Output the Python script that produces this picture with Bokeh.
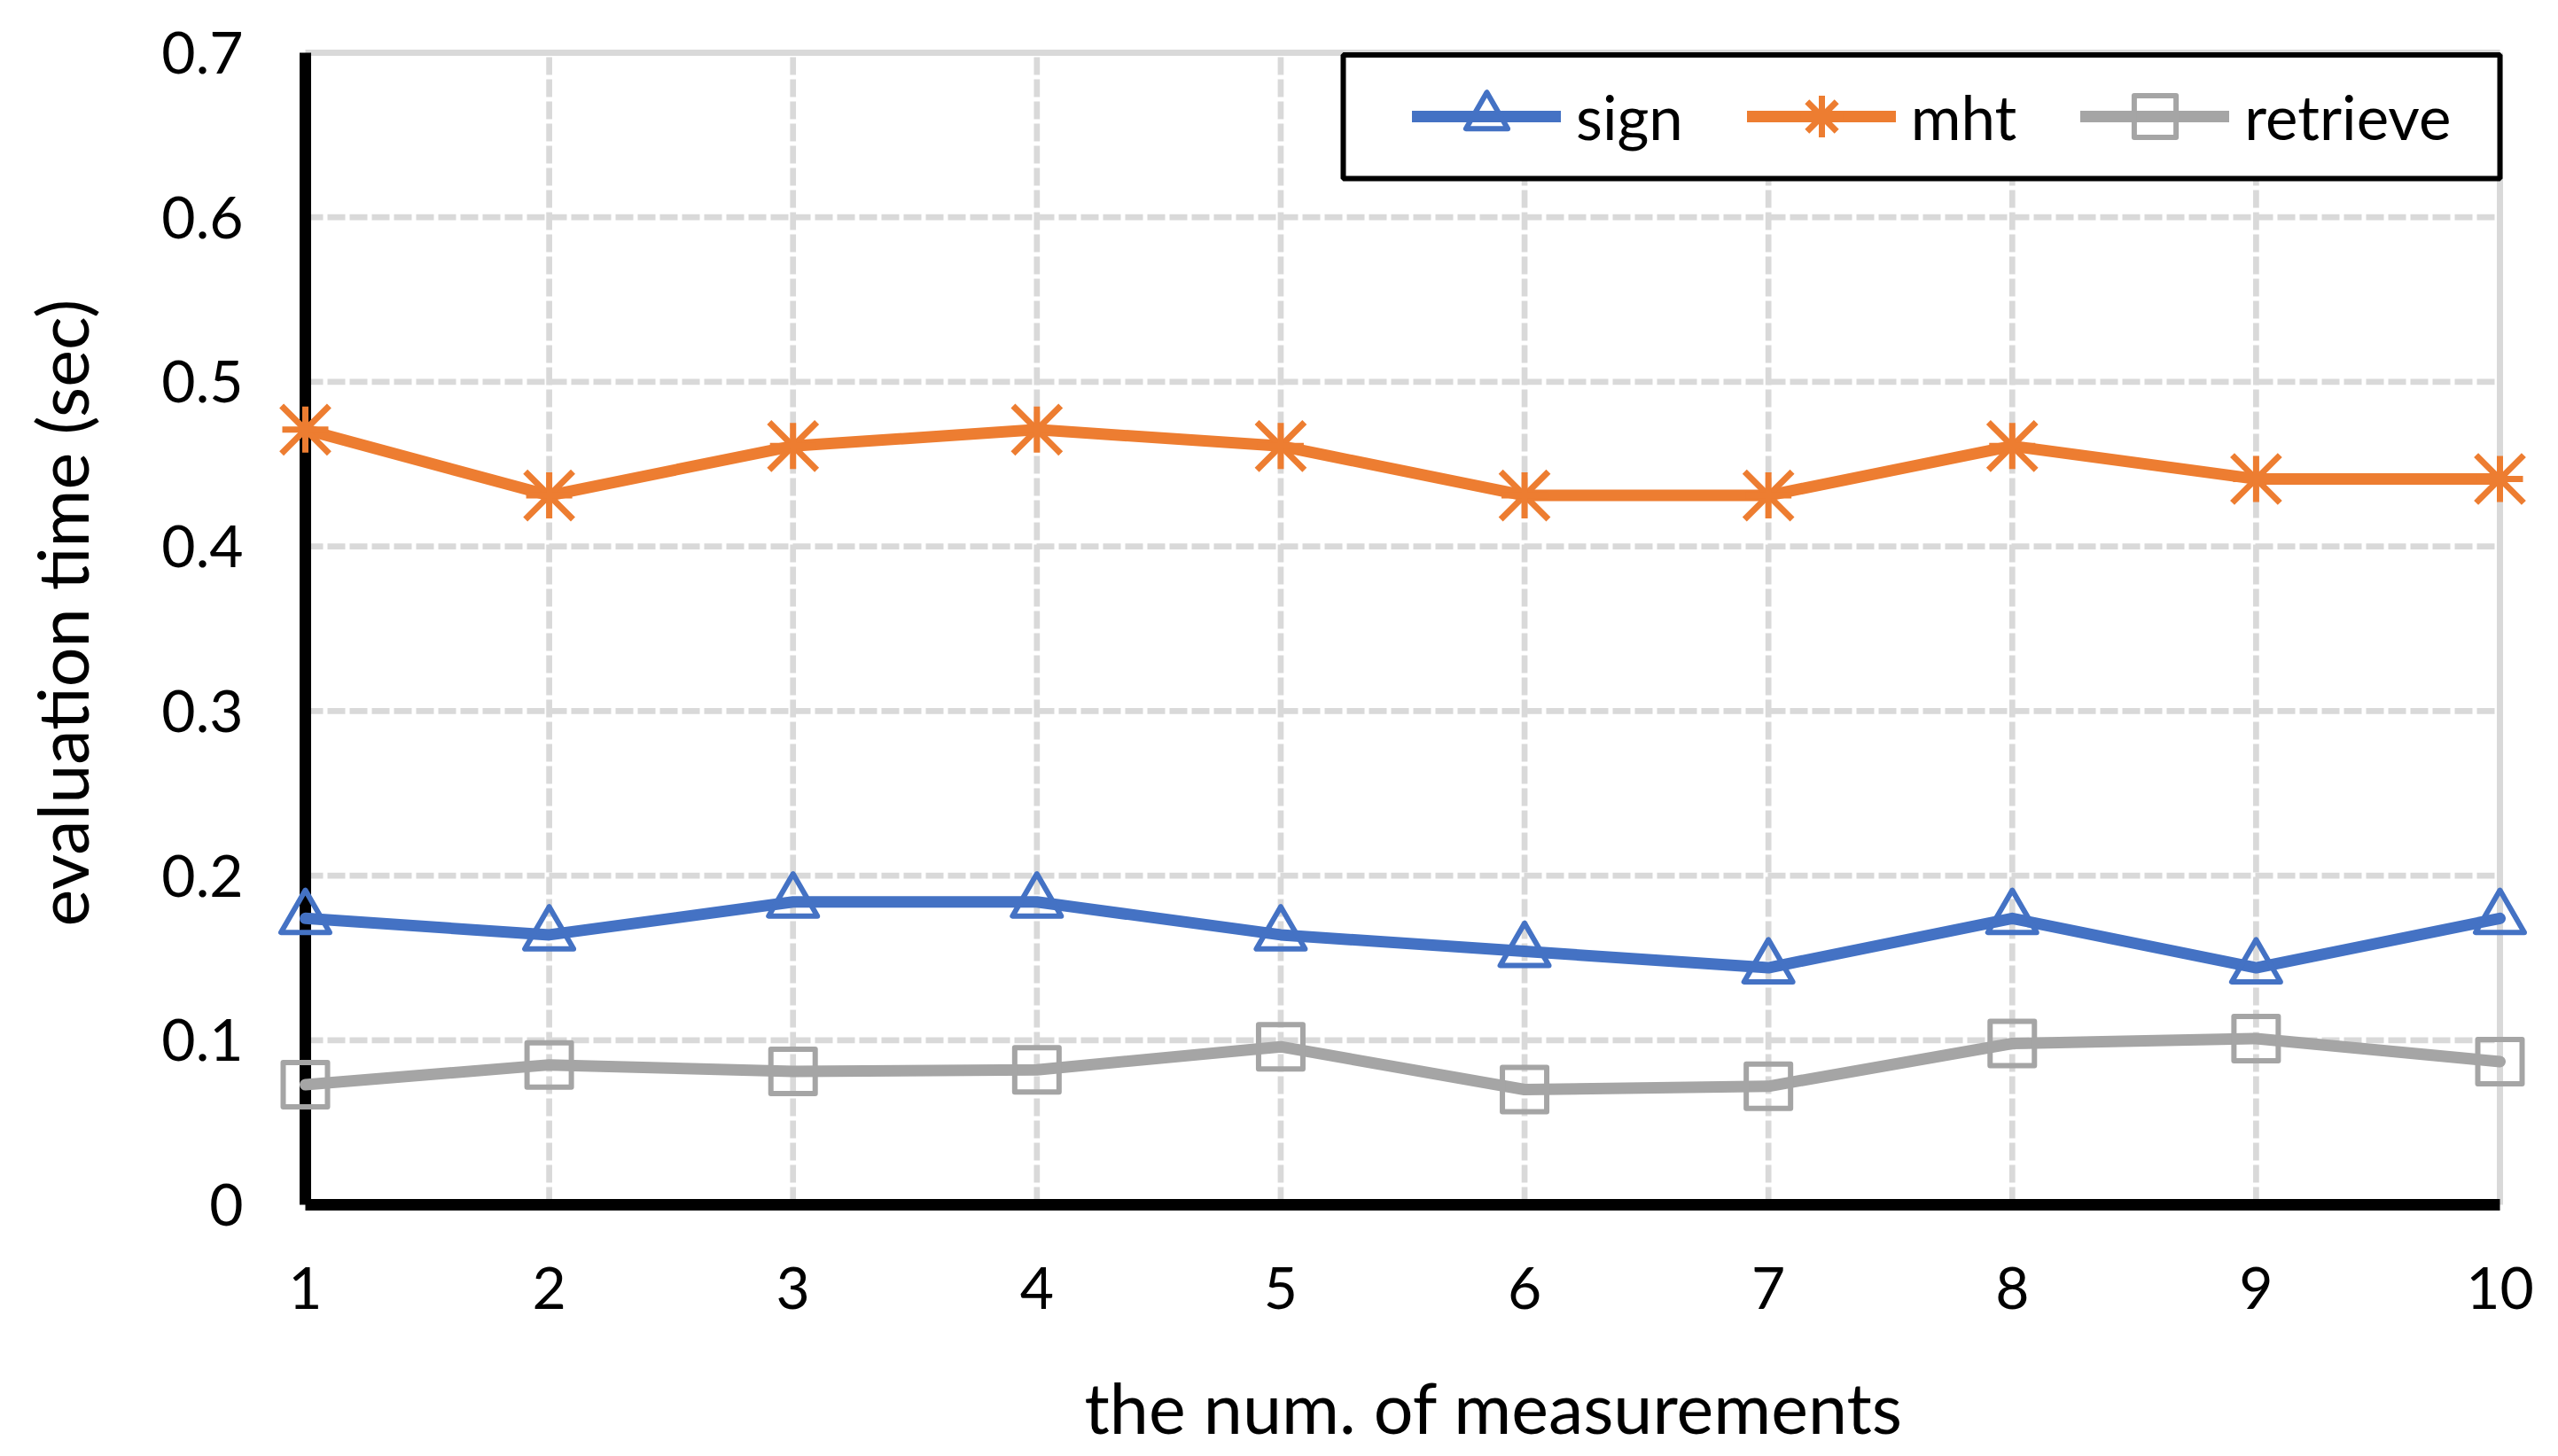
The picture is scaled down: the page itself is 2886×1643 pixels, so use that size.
import math
from bokeh.plotting import figure
from bokeh.models import (Range1d, FixedTicker, CustomJSTickFormatter, Legend, LegendItem,
                          BoxAnnotation, Label)
from bokeh.embed import file_html
from bokeh.resources import INLINE

# ---------------- data ----------------
measurements = [1, 2, 3, 4, 5, 6, 7, 8, 9, 10]
sign = [0.174, 0.164, 0.184, 0.184, 0.164, 0.154, 0.144, 0.174, 0.144, 0.174]
mht = [0.471, 0.431, 0.461, 0.471, 0.461, 0.431, 0.431, 0.461, 0.441, 0.441]
retrieve = [0.073, 0.085, 0.081, 0.082, 0.096, 0.070, 0.072, 0.098, 0.101, 0.087]

series_names = ["sign", "mht", "retrieve"]
x_tick_labels = ["1", "2", "3", "4", "5", "6", "7", "8", "9", "10"]
y_ticks = [0, 0.1, 0.2, 0.3, 0.4, 0.5, 0.6, 0.7]
y_tick_labels = ["0", "0.1", "0.2", "0.3", "0.4", "0.5", "0.6", "0.7"]
x_title = "the num. of measurements"
y_title = "evaluation time (sec)"

# ---------------- layout (pixels on the canvas) ----------------
W, H = 2886, 1643
X_FIRST_PX, X_LAST_PX = 344, 2820      # where first / last category sit
Y_ZERO_PX, Y_TOP_PX = 1359, 59         # where 0 and the top tick sit

x_first, x_last = measurements[0], measurements[-1]
y_bot, y_top = y_ticks[0], y_ticks[-1]
ppx = (X_LAST_PX - X_FIRST_PX) / (x_last - x_first)
ppy = (Y_ZERO_PX - Y_TOP_PX) / (y_top - y_bot)


def px_to_x(px):
    return x_first + (px - X_FIRST_PX) / ppx


def px_to_y(py):
    return y_bot + (Y_ZERO_PX - py) / ppy


FONT = "Lato"
BLUE, ORANGE, GRAY = "#4472C4", "#ED7D31", "#A5A5A5"
GRID = "#D9D9D9"

# the plotting frame covers the whole canvas; axes sit at fixed data locations
p = figure(width=W, height=H, output_backend="svg", toolbar_location=None,
           x_range=Range1d(px_to_x(0), px_to_x(W)),
           y_range=Range1d(px_to_y(H), px_to_y(0)),
           min_border_left=0, min_border_right=0,
           min_border_top=0, min_border_bottom=0)
p.outline_line_color = None
p.background_fill_color = "white"
p.border_fill_color = "white"
p.xgrid.visible = False
p.ygrid.visible = False

for ax in (p.xaxis[0], p.yaxis[0]):
    ax.axis_line_color = None
    ax.major_tick_line_color = None
    ax.minor_tick_line_color = None
    ax.major_tick_out = 0
    ax.major_tick_in = 0
    ax.major_label_text_font = FONT
    ax.major_label_text_font_size = "66px"
    ax.major_label_text_color = "black"

p.xaxis.fixed_location = y_bot
p.xaxis.ticker = FixedTicker(ticks=measurements)
p.xaxis.formatter = CustomJSTickFormatter(args=dict(labels=x_tick_labels),
                                          code="return labels[index]")
p.xaxis.major_label_standoff = 70

p.yaxis.fixed_location = x_first
p.yaxis.ticker = FixedTicker(ticks=y_ticks)
p.yaxis.formatter = CustomJSTickFormatter(args=dict(labels=y_tick_labels),
                                          code="return labels[index]")
p.yaxis.major_label_standoff = 70

# axis titles
p.add_layout(Label(x=px_to_x(1685), y=px_to_y(1587), text=x_title,
                   text_align="center", text_baseline="alphabetic",
                   text_font=FONT, text_font_size="79px", text_color="black"))
p.add_layout(Label(x=px_to_x(69), y=px_to_y(691), text=y_title, angle=math.pi / 2,
                   text_align="center", text_baseline="alphabetic",
                   text_font=FONT, text_font_size="79px", text_color="black"))

# gridlines
inner_x = measurements[1:-1]
inner_y = y_ticks[1:-1]
p.segment(x0=inner_x, y0=[y_bot] * len(inner_x), x1=inner_x, y1=[y_top] * len(inner_x),
          line_color=GRID, line_width=6.7, line_dash="20 5")
p.segment(x0=[x_first] * len(inner_y), y0=inner_y, x1=[x_last] * len(inner_y), y1=inner_y,
          line_color=GRID, line_width=6.7, line_dash="20 5")
# plot-area border (top & right)
p.segment(x0=[x_first, x_last], y0=[y_top, y_bot], x1=[x_last, x_last], y1=[y_top, y_top],
          line_color=GRID, line_width=7)
# black axis lines
p.segment(x0=[x_first, x_first], y0=[y_bot, y_bot], x1=[x_first, x_last], y1=[y_top, y_bot],
          line_color="black", line_width=13, line_cap="butt")

# series
l1 = p.line(measurements, sign, line_color=BLUE, line_width=13,
            line_join="round", line_cap="round")
m1 = p.scatter(measurements, sign, marker="triangle", size=55, fill_color=None,
               line_color=BLUE, line_width=6, line_join="round")
l2 = p.line(measurements, mht, line_color=ORANGE, line_width=13,
            line_join="round", line_cap="round")
m2a = p.scatter(measurements, mht, marker="x", size=76, fill_color=None,
                line_color=ORANGE, line_width=7)
m2b = p.scatter(measurements, mht, marker="cross", size=52, fill_color=None,
                line_color=ORANGE, line_width=7)
l3 = p.line(measurements, retrieve, line_color=GRAY, line_width=13,
            line_join="round", line_cap="round")
m3 = p.scatter(measurements, retrieve, marker="square", size=50, fill_color=None,
               line_color=GRAY, line_width=6, line_join="round")

# legend frame
box = BoxAnnotation(left=px_to_x(1515), right=px_to_x(2820),
                    top=px_to_y(61.5), bottom=px_to_y(201),
                    fill_color="white", fill_alpha=1.0,
                    line_color="black", line_alpha=1.0, line_width=6)
p.add_layout(box)

legend = Legend(items=[LegendItem(label=series_names[0], renderers=[l1, m1]),
                       LegendItem(label=series_names[1], renderers=[l2, m2a, m2b]),
                       LegendItem(label=series_names[2], renderers=[l3, m3])],
                orientation="horizontal",
                location=(1593, H - 190),
                glyph_width=168, glyph_height=118, label_standoff=17, spacing=72,
                padding=0, margin=0, border_line_color=None,
                background_fill_alpha=0,
                label_text_font=FONT, label_text_font_size="69px",
                label_text_color="black")
p.add_layout(legend, "center")

open("out.html", "w").write(file_html(p, INLINE))
